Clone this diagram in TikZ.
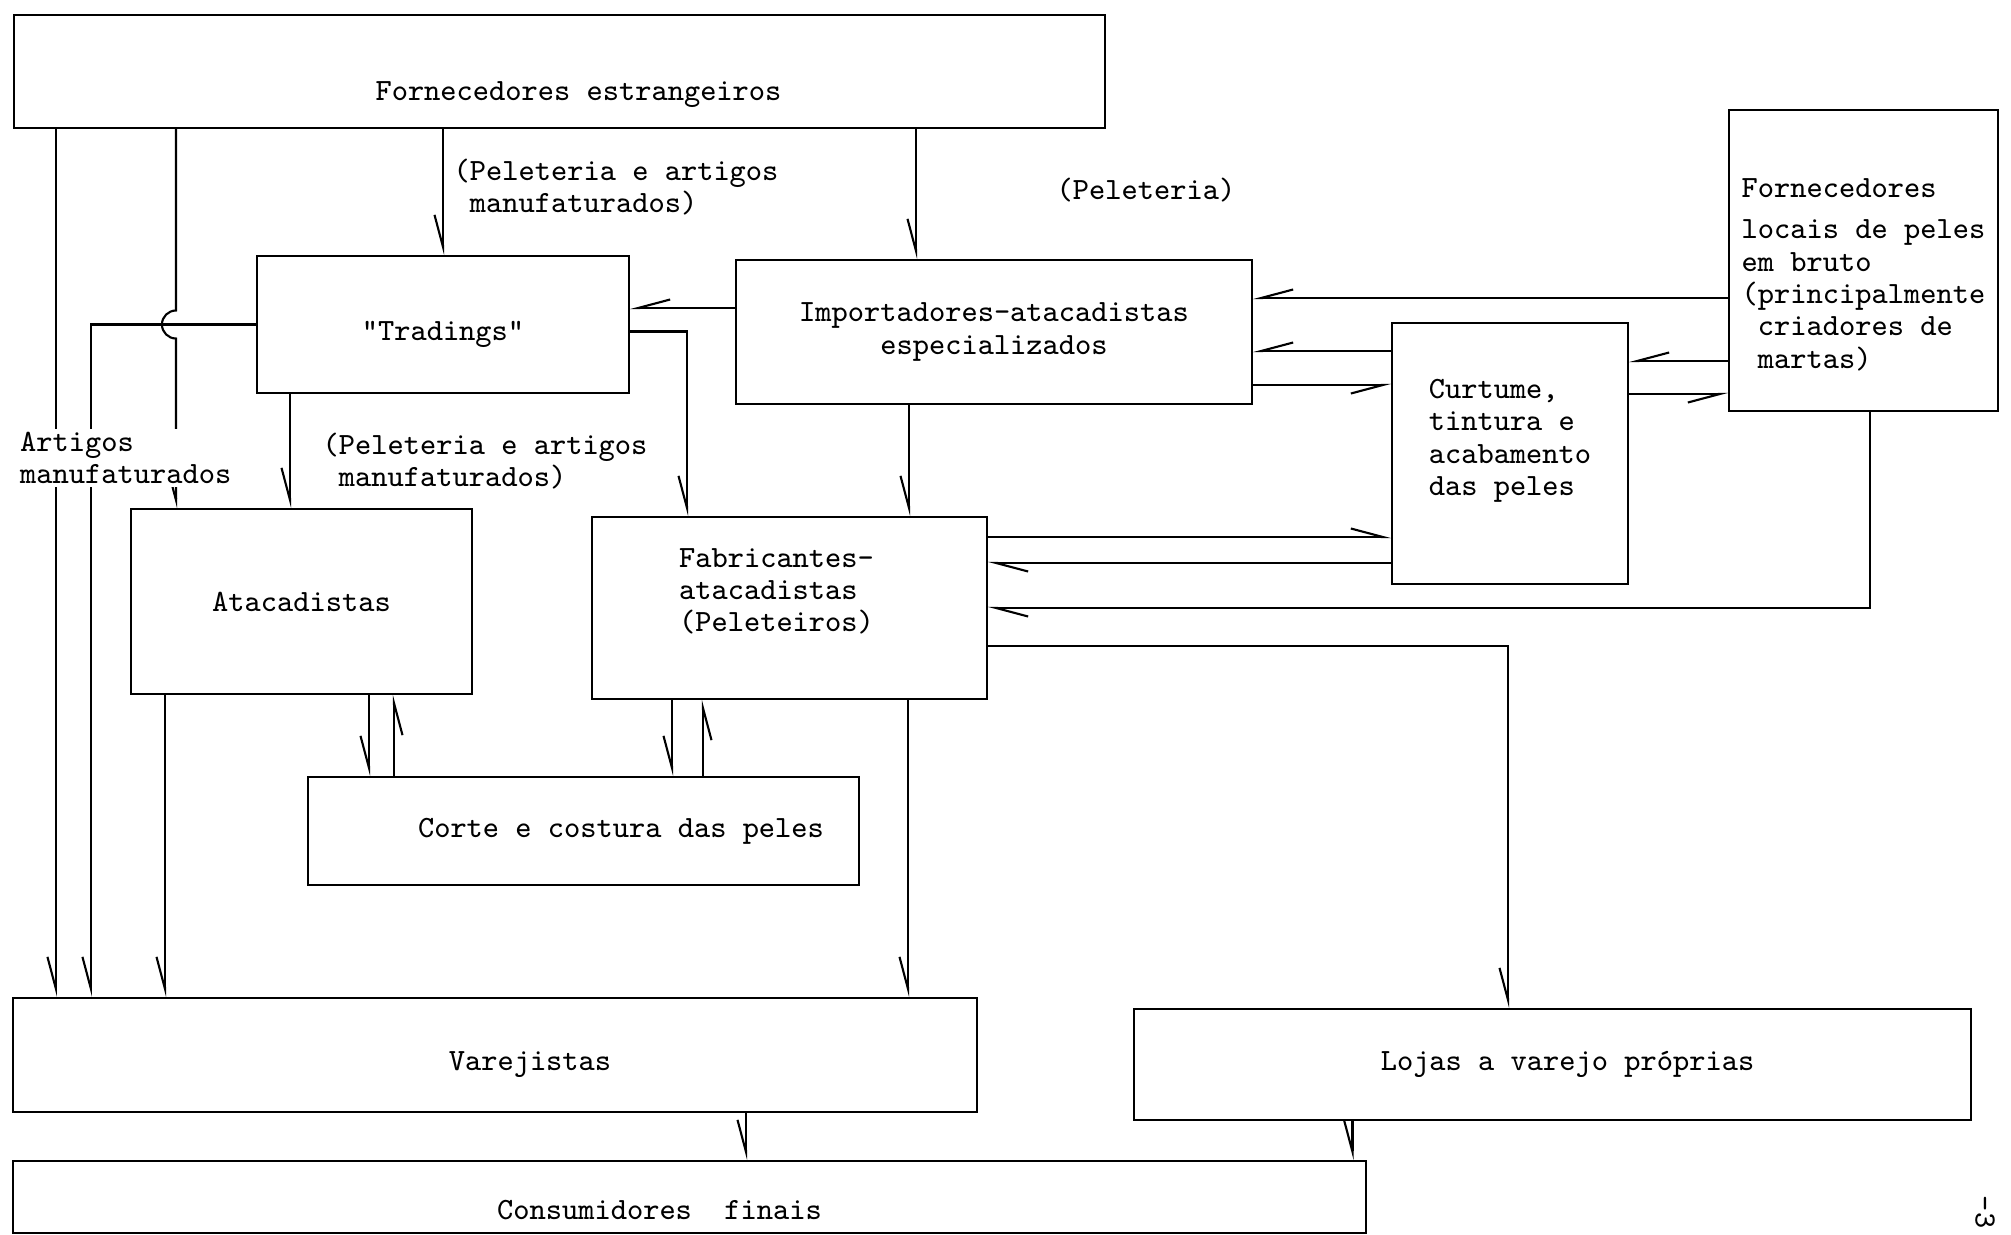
\documentclass[tikz,border=0pt]{standalone}
\usepackage{fontspec}
\usetikzlibrary{arrows.meta,calc}
\newcommand{\diagfont}{\fontsize{8.8}{9.2}\selectfont\ttfamily}

\begin{document}
\begin{tikzpicture}[
  box/.style={draw, line width=0.6pt, inner sep=0pt, align=center, font=\diagfont},
  lab/.style={inner sep=0pt, align=left, font=\diagfont},
  arr/.style={-{Straight Barb[harpoon,swap,length=3.2mm,width=1.7mm]}, line width=0.6pt},
  arrl/.style={-{Straight Barb[harpoon,length=3.2mm,width=1.7mm]}, line width=0.6pt}
]
\useasboundingbox (0,0) rectangle (20.11,-12.35);

% boxes
\node[box, minimum width=10.91cm, minimum height=1.13cm] (fe) at (5.595,-0.715) {\hspace*{3.8mm}\raisebox{-2.3mm}[\height][\depth]{Fornecedores estrangeiros}};
\node[box, minimum width=3.72cm, minimum height=1.37cm] (trad) at (4.43,-3.245) {\raisebox{-1mm}[\height][\depth]{"Tradings"}};
\node[box, minimum width=5.16cm, minimum height=1.44cm] (imp) at (9.94,-3.32) {Importadores-atacadistas\\especializados};
\node[box, minimum width=2.69cm, minimum height=3.01cm] (fl) at (18.635,-2.605) {\raisebox{-1.6mm}[\height][\depth]{\begin{tabular}{@{}l@{}}Fornecedores\\[2.5pt]locais de peles\\em bruto\\(principalmente\\\phantom{(}criadores de\\\phantom{(}martas)\end{tabular}}};
\node[box, minimum width=2.36cm, minimum height=2.61cm] (cur) at (15.10,-4.535) {\raisebox{1.3mm}[\height][\depth]{\begin{tabular}{@{}l@{}}Curtume,\\tintura e\\acabamento\\das peles\end{tabular}}};
\node[box, minimum width=3.41cm, minimum height=1.85cm] (ata) at (3.015,-6.015) {Atacadistas};
\node[box, minimum width=3.95cm, minimum height=1.82cm] (fab) at (7.895,-6.08) {\raisebox{1.5mm}[\height][\depth]{\begin{tabular}{@{}l@{}}Fabricantes-\\atacadistas\\(Peleteiros)\end{tabular}}\hspace*{2.6mm}};
\node[box, minimum width=5.51cm, minimum height=1.08cm] (cor) at (5.835,-8.31) {\hspace*{7.5mm}Corte e costura das peles};
\node[box, minimum width=9.64cm, minimum height=1.14cm] (var) at (4.95,-10.55) {\hspace*{7mm}\raisebox{-1mm}[\height][\depth]{Varejistas}};
\node[box, minimum width=8.37cm, minimum height=1.11cm] (loj) at (15.525,-10.645) {\hspace*{3mm}Lojas a varejo próprias};
\node[box, minimum width=13.53cm, minimum height=0.72cm] (con) at (6.895,-11.97) {\raisebox{-1.3mm}[\height][\depth]{Consumidores\ \ finais}\hspace*{6mm}};

% from the foreign suppliers
\draw[arr] (fe.south -| trad.north) -- (trad.north);
\coordinate (s) at ([xshift=-0.78cm]imp.north);
\draw[arr] (fe.south -| s) -- (s);
\coordinate (s) at ([xshift=0.43cm]fe.south west);
\draw[arr] (s) -- (s |- var.north);
\coordinate (h) at ([xshift=1.63cm]fe.south west);
\draw[arr] (h) -- ($(h |- trad.west)+(0,0.14)$) arc[start angle=90, end angle=270, radius=0.14cm] -- (h |- ata.north);

% tradings
\coordinate (s) at ([xshift=0.79cm]var.north west);
\draw[arr] (trad.west) -| (s);
\draw[arr] ([yshift=-0.07cm]trad.east) -| ([xshift=-1.025cm]fab.north);

% vertical drops
\foreach \a/\d/\b in {trad/-1.53/ata, imp/-0.85/fab, fab/-1.175/cor, ata/0.675/cor, ata/-1.365/var, fab/1.185/var, var/2.51/con, loj/-2.0/con} {
  \coordinate (s) at ([xshift=\d cm]\a.south);
  \draw[arr] (s) -- (s |- \b.north);
}
\foreach \a/\d in {fab/-0.865, ata/0.925} {
  \coordinate (s) at ([xshift=\d cm]\a.south);
  \draw[arr] (s |- cor.north) -- (s);
}

% horizontal links
\foreach \a/\d/\b in {fl/-0.375/imp, cur/1.025/imp, fl/-1.005/cur, imp/0.24/trad} {
  \coordinate (s) at ([yshift=\d cm]\a.west);
  \draw[arr] (s) -- (s -| \b.east);
}
\foreach \a/\d/\b in {cur/0.685/imp, fl/-1.335/cur} {
  \coordinate (s) at ([yshift=\d cm]\a.west);
  \draw[arr] (s -| \b.east) -- (s);
}
\coordinate (s) at ([yshift=-0.835cm]cur.west);
\draw[arrl] (s -| fab.east) -- (s);
\coordinate (s) at ([yshift=-1.095cm]cur.west);
\draw[arrl] (s) -- (s -| fab.east);
\draw[arrl] ([xshift=0.065cm]fl.south) |- (fab.east);
\draw[arr] ([yshift=-0.38cm]fab.east) -| ([xshift=-0.445cm]loj.north);

% labels
\node[lab, anchor=west] (l1) at (4.53,-1.87) {(Peleteria e artigos\\\phantom{(}manufaturados)};
\node[lab] (l2) at (11.46,-1.90) {(Peleteria)};
\node[lab, anchor=west] (l3) at (3.22,-4.61) {(Peleteria e artigos\\\phantom{(}manufaturados)};
\node[lab, anchor=west, fill=white, inner sep=1pt] (l4) at (0.16,-4.58) {Artigos\\manufaturados};
\node[lab, rotate=-90] (pg) at (19.85,-12.12) {-3};
\end{tikzpicture}
\end{document}
